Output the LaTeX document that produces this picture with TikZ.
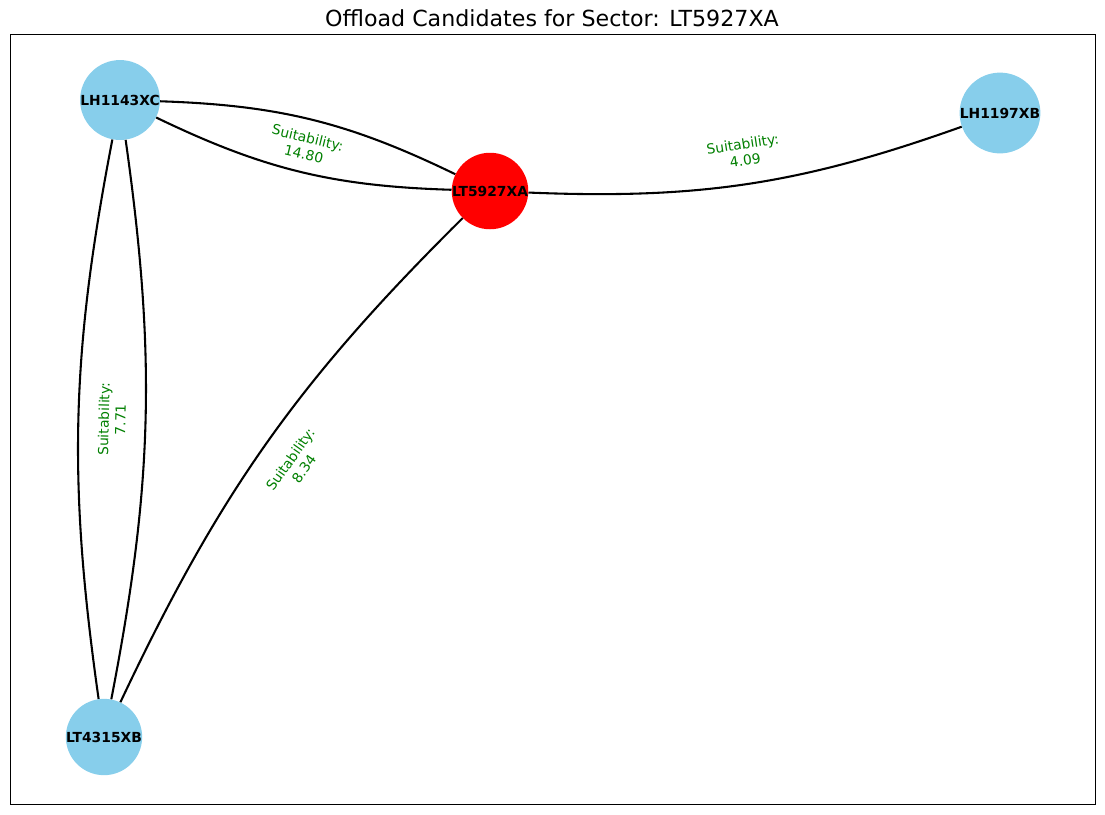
\documentclass[tikz,border=0pt]{standalone}
\usepackage{fontspec}
\setmainfont{DejaVu Sans}
\definecolor{skyblue}{HTML}{87CEEB}
\definecolor{mplgreen}{HTML}{008000}
\tikzset{
  sector/.style={circle, draw=none, inner sep=0pt, minimum size=0.76in, font=\fontsize{10}{12}\selectfont\bfseries},
  link/.style={line width=1.5pt, black},
  elabel/.style={sloped, fill=white, rounded corners=3pt, text=mplgreen, align=center, inner sep=4pt, font=\fontsize{10}{12}\selectfont}
}
\begin{document}
\begin{tikzpicture}[x=0.01in, y=0.01in]
\useasboundingbox (0,0) rectangle (1105,-814);
\node[font=\fontsize{16}{19}\selectfont] (title) at (552,-18) {Offload Candidates for Sector: LT5927XA};
\draw[line width=0.7pt] (10,-34) rectangle (1095,-804);

\node[sector, fill=skyblue] (c) at (120,-100) {LH1143XC};
\node[sector, fill=red] (t) at (490,-191) {LT5927XA};
\node[sector, fill=skyblue] (r) at (1000,-113) {LH1197XB};
\node[sector, fill=skyblue] (b) at (104,-737) {LT4315XB};

\draw[link] (c) to[bend right=12] (t);
\draw[link] (t) to[bend right=12] (c);
\draw[link] (c) to[bend right=9.5] (b);
\draw[link] (b) to[bend right=9.5] (c);
\draw[link] (t) to[bend right=10] (b);
\draw[link] (t) to[bend right=11] (r);

\path (c) -- node[elabel] {Suitability:\\14.80} (t);
\path (c) -- node[elabel] {Suitability:\\7.71} (b);
\path (t) -- node[elabel] {Suitability:\\8.34} (b);
\path (t) -- node[elabel] {Suitability:\\4.09} (r);
\end{tikzpicture}
\end{document}
